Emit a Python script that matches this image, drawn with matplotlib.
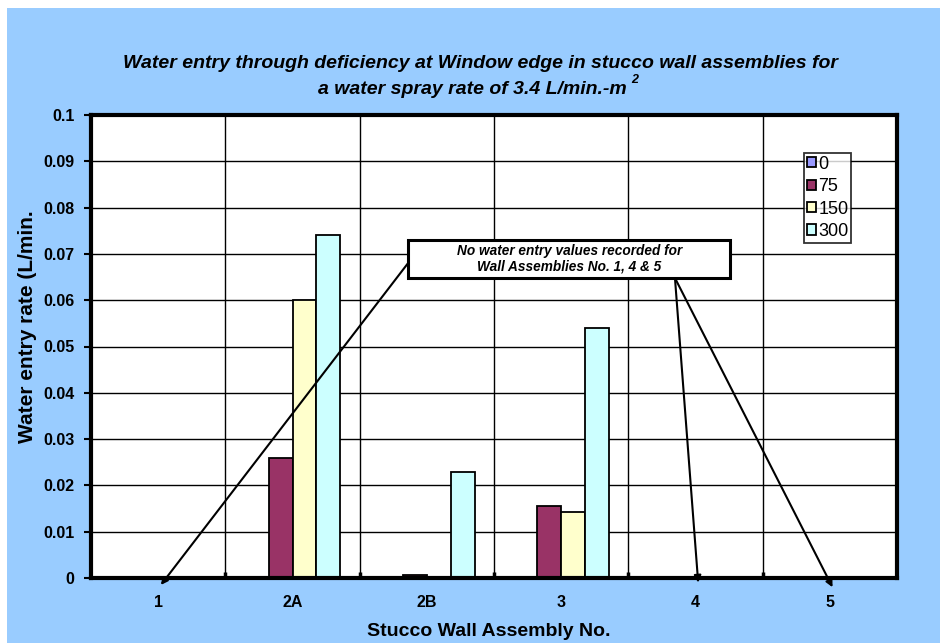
import matplotlib.pyplot as plt
import numpy as np
from matplotlib.patches import Rectangle

plt.rcParams['font.family'] = ['Liberation Sans', 'DejaVu Sans']

# chart data
assemblies = ['1', '2A', '2B', '3', '4', '5']
series_names = ['0', '75', '150', '300']
vals_0 = [0, 0, 0, 0, 0, 0]
vals_75 = [0, 0.026, 0.0007, 0.0155, 0, 0]
vals_150 = [0, 0.060, 0, 0.0143, 0, 0]
vals_300 = [0, 0.074, 0.023, 0.054, 0, 0]
no_data = ['1', '4', '5']
colors = ['#9999FF', '#993366', '#FFFFCC', '#CCFFFF']

fig = plt.figure(figsize=(9.4, 6.43), dpi=100)
fig.patch.set_facecolor('white')
# blue chart background (small white margin at left/top)
fig.patches.append(Rectangle((7 / 940, 0), 1 - 7 / 940, 1 - 8 / 643,
                             transform=fig.transFigure, facecolor='#99CCFF',
                             edgecolor='none', zorder=-10))

ax = fig.add_axes([91 / 940, 1 - 578 / 643, (897 - 91) / 940, (578 - 115) / 643])
ax.set_facecolor('white')

x = np.arange(len(assemblies))
w = 0.178
all_vals = [vals_0, vals_75, vals_150, vals_300]
for k, (name, vals) in enumerate(zip(series_names, all_vals)):
    ax.bar(x + (k - 1.5) * w, vals, width=w, color=colors[k], edgecolor='black',
           linewidth=1.3, label=name, zorder=3)

ax.set_xlim(-0.5, len(assemblies) - 0.5)
ax.set_ylim(0, 0.1)
ax.set_yticks(np.arange(0, 0.1001, 0.01))
ax.set_yticklabels(['0'] + ['%g' % v for v in np.arange(0.01, 0.1001, 0.01)])
ax.set_xticks(x)
ax.set_xticklabels(assemblies)
ax.set_xticks(np.arange(0.5, len(assemblies) - 0.5, 1), minor=True)
ax.grid(axis='y', which='major', color='black', linewidth=1, zorder=1)
ax.grid(axis='x', which='minor', color='black', linewidth=1, zorder=1)
ax.set_axisbelow(True)
ax.tick_params(axis='x', which='major', length=0, pad=12)
ax.tick_params(axis='x', which='minor', direction='in', length=4, width=2.5)
ax.tick_params(axis='y', direction='out', length=5, width=1.5, pad=7)
for lab in ax.get_xticklabels() + ax.get_yticklabels():
    lab.set_fontweight('bold')
    lab.set_fontsize(11.5)
for s in ax.spines.values():
    s.set_linewidth(3)
    s.set_zorder(7)

fig.text(0.52, 1 - 632 / 643, 'Stucco Wall Assembly No.', ha='center', va='center',
         fontsize=14, fontweight='bold')
fig.text(28 / 940, 1 - 327 / 643, 'Water entry rate (L/min.', ha='center', va='center',
         rotation=90, fontsize=15, fontweight='bold')

fig.text(0.511, 1 - 63 / 643, 'Water entry through deficiency at Window edge in stucco wall assemblies for',
         ha='center', va='center', fontsize=14, fontweight='bold', style='italic')
t2 = fig.text(0.503, 1 - 89 / 643, 'a water spray rate of 3.4 L/min.-m',
              ha='center', va='center', fontsize=14, fontweight='bold', style='italic')
ax.annotate('2', xy=(1, 1), xycoords=t2, xytext=(3, -4), textcoords='offset points',
            fontsize=9, fontweight='bold', style='italic', ha='left', va='bottom',
            annotation_clip=False)

leg = ax.legend(loc='upper left', bbox_to_anchor=(0.8846, 0.918), frameon=True,
                fancybox=False, edgecolor='black', fontsize=13, handlelength=0.5,
                handleheight=0.5, handletextpad=0.15, borderpad=0.15, labelspacing=0.3,
                borderaxespad=0)
leg.get_frame().set_linewidth(1.3)

# note box with arrows pointing at the empty assemblies
ax.add_patch(Rectangle((1.86, 0.0648), 4.257 - 1.86, 0.073 - 0.0648, facecolor='white',
                       edgecolor='black', linewidth=2.2, zorder=6))
note = 'No water entry values recorded for\nWall Assemblies No. 1, 4 & 5'
ax.text(3.06, 0.0689, note, ha='center', va='center', fontsize=9.8,
        fontweight='bold', style='italic', zorder=7, linespacing=1.15)
starts = {'1': (1.86, 0.068), '4': (3.847, 0.0648), '5': (3.847, 0.0648)}
tips_y = {'1': -0.0015, '4': -0.001, '5': -0.002}
for a in no_data:
    i = assemblies.index(a)
    ax.annotate('', xy=(i + 0.02, tips_y[a]), xytext=starts[a], xycoords='data',
                textcoords='data', annotation_clip=False, zorder=5,
                arrowprops=dict(arrowstyle='-|>', color='black', lw=1.5,
                                mutation_scale=10, shrinkA=0, shrinkB=0))

fig.savefig('out.png', dpi=100)
